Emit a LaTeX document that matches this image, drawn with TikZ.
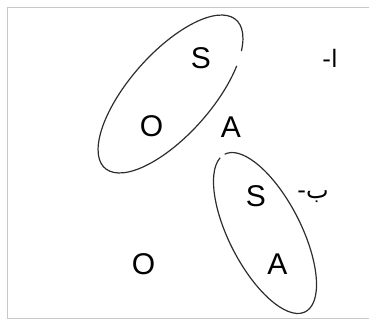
\documentclass[tikz,border=0pt]{standalone}
\usepackage{fontspec}
\setmainfont{Liberation Sans}
\newfontfamily\arabicfont[Script=Arabic]{DejaVu Sans}
\TeXXeTstate=1
\usepackage{tikz}
\definecolor{framegray}{RGB}{200, 200, 200}
\definecolor{loopgray}{RGB}{45, 45, 45}

\begin{document}
\begin{tikzpicture}[
  x=1pt, y=1pt,
  sym/.style={inner sep=0pt, font=\fontsize{30}{34}\selectfont},
  tag/.style={inner sep=0pt, font=\fontsize{24}{27}\arabicfont},
  loop/.style={draw=loopgray, line width=1.2pt}
]
  \useasboundingbox (0, 0) rectangle (369, 321);
  \draw[framegray, line width=1.6pt] (371, 2.5) -- (7.5, 2.5) -- (7.5, 313.5) -- (371, 313.5);

  \node[sym] (s1) at (201, 263) {S};
  \node[sym] (o1) at (151.5, 195) {O};
  \node[sym] (a1) at (231, 194) {A};
  \node[tag] (alef) at (330, 263) {\beginR ا-\endR};

  \node[sym] (s2) at (256, 125) {S};
  \node[sym] (o2) at (143.5, 57) {O};
  \node[sym] (a2) at (277.5, 57) {A};
  \node[tag] (ba) at (313, 124) {\beginR ب-\endR};

  \coordinate (e1) at (170.5, 227);
  \coordinate (e2) at (265, 88);
  \draw[loop, shift={(e1)}, rotate=48.5] (-37:99 and 41) arc[start angle=-37, end angle=311, x radius=99, y radius=41];
  \draw[loop, shift={(e2)}, rotate=-62.9] (189:88.5 and 36) arc[start angle=189, end angle=540, x radius=88.5, y radius=36];
\end{tikzpicture}
\end{document}
